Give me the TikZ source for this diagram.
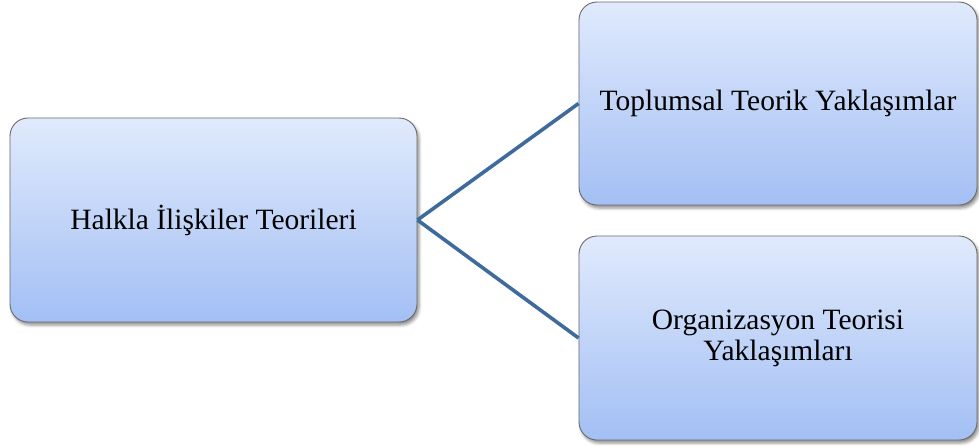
\documentclass[tikz,border=0pt]{standalone}
\usepackage{fontspec}
\setmainfont{Liberation Serif}
\usetikzlibrary{shadows.blur}
\definecolor{boxtop}{HTML}{E0EAFC}
\definecolor{boxbot}{HTML}{A3BFF4}
\definecolor{boxline}{HTML}{6A6A6A}
\definecolor{linkblue}{HTML}{3E6A9C}
\tikzset{
  topicbox/.style={rectangle, rounded corners=18pt, draw=boxline, line width=0.9pt,
    top color=boxtop, bottom color=boxbot, align=center,
    font=\fontsize{29.5}{31}\selectfont, inner sep=0pt,
    blur shadow={shadow xshift=2pt, shadow yshift=-3pt, shadow blur radius=3pt, shadow opacity=45}},
  linkline/.style={draw=linkblue, line width=3.6pt}
}
\begin{document}
\begin{tikzpicture}[x=1pt,y=-1pt]
  \useasboundingbox (0,0) rectangle (979,445);
  \node[topicbox, minimum width=407pt, minimum height=204pt] (root) at (213.5,220) {Halkla İlişkiler Teorileri};
  \node[topicbox, minimum width=398pt, minimum height=203pt] (social) at (778,103.5) {Toplumsal Teorik Yaklaşımlar};
  \node[topicbox, minimum width=398pt, minimum height=204pt] (org) at (778,338) {Organizasyon Teorisi\\Yaklaşımları};
  \draw[linkline] (root.east) -- (social.west);
  \draw[linkline] (root.east) -- (org.west);
\end{tikzpicture}
\end{document}
